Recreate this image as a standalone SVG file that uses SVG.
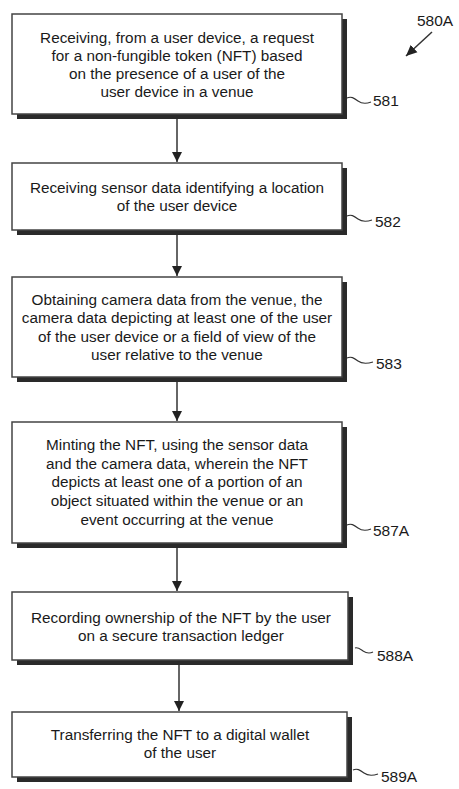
<svg xmlns="http://www.w3.org/2000/svg" width="459" height="789" viewBox="0 0 459 789">
<defs>
<style>
.box{fill:#fff;stroke:#444;stroke-width:1.5}
.shadow{fill:#2a2a2a}
.t{font-family:"Liberation Sans",Arial,sans-serif;font-size:15.3px;fill:#1a1a1a;text-anchor:middle}
.lbl{font-family:"Liberation Sans",Arial,sans-serif;font-size:15.5px;fill:#1a1a1a}
.conn{stroke:#333;stroke-width:1.5;fill:none}
.tilde{stroke:#333;stroke-width:1.1;fill:none}
</style>
<marker id="ah" viewBox="0 0 10 10" refX="10" refY="5" markerWidth="10" markerHeight="10" markerUnits="userSpaceOnUse" orient="auto">
<path d="M0,0 L10,5 L0,10 z" fill="#222"/>
</marker>
<marker id="ah2" viewBox="0 0 10 10" refX="10" refY="5" markerWidth="11" markerHeight="11" markerUnits="userSpaceOnUse" orient="auto">
<path d="M0,0.5 L10,5 L0,9.5 z" fill="#222"/>
</marker>
</defs>
<rect width="459" height="789" fill="#fff"/>

<g id="connectors">
<line class="conn" x1="177" y1="119" x2="177" y2="162" marker-end="url(#ah)"/>
<line class="conn" x1="177" y1="235" x2="177" y2="276" marker-end="url(#ah)"/>
<line class="conn" x1="177" y1="382" x2="177" y2="421" marker-end="url(#ah)"/>
<line class="conn" x1="177" y1="548" x2="177" y2="591" marker-end="url(#ah)"/>
<line class="conn" x1="179" y1="665" x2="179" y2="711" marker-end="url(#ah)"/>
<line class="conn" x1="432" y1="32" x2="406" y2="56" marker-end="url(#ah2)"/>
</g>

<g id="ref-580A">
<text class="lbl" x="417" y="26">580A</text>
</g>

<g id="n581">
<rect class="shadow" x="17" y="19" width="330" height="100"/>
<rect class="box" x="12" y="14" width="330" height="100"/>
<text class="t" x="177" y="42.5">Receiving, from a user device, a request</text>
<text class="t" x="177" y="60.8">for a non-fungible token (NFT) based</text>
<text class="t" x="177" y="79">on the presence of a user of the</text>
<text class="t" x="177" y="97.3">user device in a venue</text>
<path class="tilde" d="M347,98 c4,-2 7,0 11,3 s8,3 13,1"/>
<text class="lbl" x="373" y="106">581</text>
</g>

<g id="n582">
<rect class="shadow" x="17" y="168" width="330" height="67"/>
<rect class="box" x="12" y="163" width="330" height="67"/>
<text class="t" x="177" y="193">Receiving sensor data identifying a location</text>
<text class="t" x="177" y="211">of the user device</text>
<path class="tilde" d="M347,216 c4,-2 7,0 11,3 s8,3 14,1"/>
<text class="lbl" x="375" y="227">582</text>
</g>

<g id="n583">
<rect class="shadow" x="17" y="282" width="330" height="100"/>
<rect class="box" x="12" y="277" width="330" height="100"/>
<text class="t" x="177" y="305">Obtaining camera data from the venue, the</text>
<text class="t" x="177" y="323.3">camera data depicting at least one of the user</text>
<text class="t" x="177" y="341.7">of the user device or a field of view of the</text>
<text class="t" x="177" y="360">user relative to the venue</text>
<path class="tilde" d="M347,358 c4,-2 7,0 11,3 s8,3 15,1"/>
<text class="lbl" x="376" y="369">583</text>
</g>

<g id="n587A">
<rect class="shadow" x="17" y="427" width="330" height="121"/>
<rect class="box" x="12" y="422" width="330" height="121"/>
<text class="t" x="177" y="449.8">Minting the NFT, using the sensor data</text>
<text class="t" x="177" y="468.6">and the camera data, wherein the NFT</text>
<text class="t" x="177" y="487.4">depicts at least one of a portion of an</text>
<text class="t" x="177" y="506.2">object situated within the venue or an</text>
<text class="t" x="177" y="525">event occurring at the venue</text>
<path class="tilde" d="M347,525 c4,-2 7,0 11,3 s8,3 13,1"/>
<text class="lbl" x="373" y="536">587A</text>
</g>

<g id="n588A">
<rect class="shadow" x="17" y="597" width="336" height="68"/>
<rect class="box" x="12" y="592" width="336" height="68"/>
<text class="t" x="181" y="622.7">Recording ownership of the NFT by the user</text>
<text class="t" x="181" y="640.7">on a secure transaction ledger</text>
<path class="tilde" d="M355,648 c3,-1 5,1 8,3 s6,3 10,1"/>
<text class="lbl" x="377" y="661">588A</text>
</g>

<g id="n589A">
<rect class="shadow" x="17" y="717" width="335" height="65"/>
<rect class="box" x="12" y="712" width="335" height="65"/>
<text class="t" x="180" y="740">Transferring the NFT to a digital wallet</text>
<text class="t" x="180" y="758.3">of the user</text>
<path class="tilde" d="M353,770 c4,-2 7,0 11,3 s8,3 14,1"/>
<text class="lbl" x="381" y="782">589A</text>
</g>
</svg>
